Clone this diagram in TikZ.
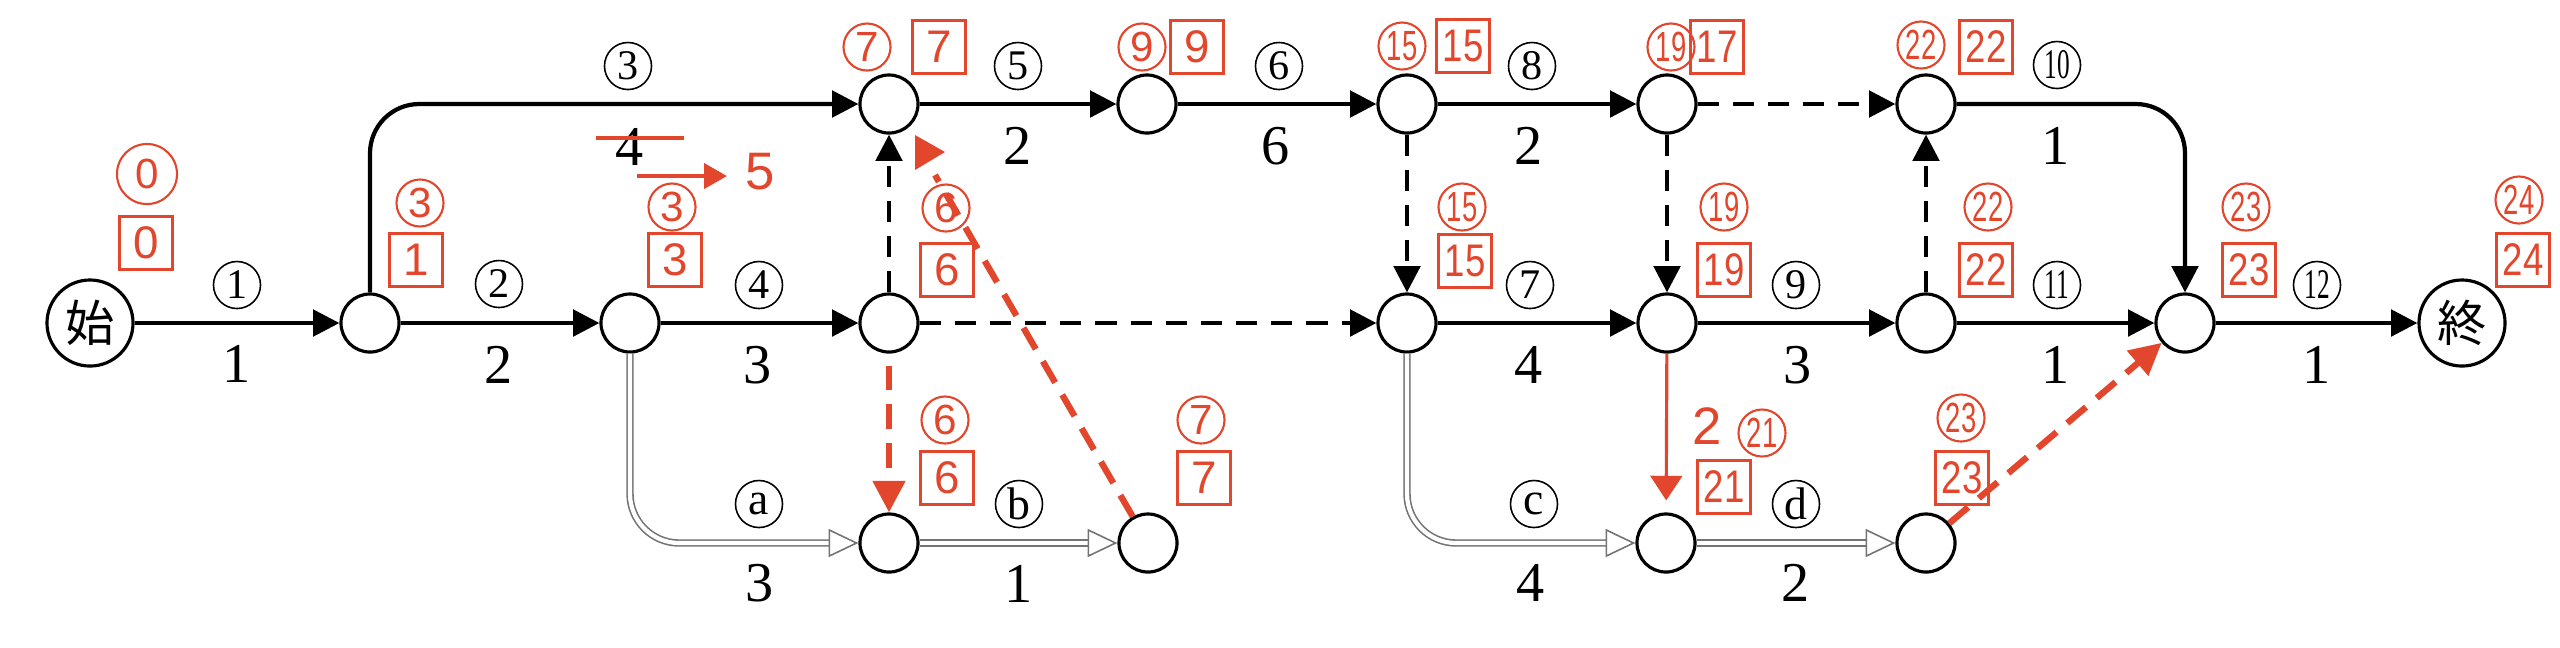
\documentclass[tikz,border=0pt]{standalone}
\usepackage{fontspec}
\setmainfont{Liberation Serif}
\newfontfamily\redsans{Liberation Sans}
\newfontfamily\cjk{Noto Sans CJK JP}
\usepackage{graphicx}
\usetikzlibrary{arrows.meta}
\definecolor{critred}{RGB}{226,70,44}
\newcommand{\tnum}[2][0.6]{\scalebox{#1}[1]{#2}}

\begin{document}
\begin{tikzpicture}[
		x=0.01cm, y=-0.01cm,
		ev/.style={circle,draw,line width=0.9pt,minimum size=0.58cm,inner sep=0pt},
		term/.style={ev,minimum size=0.86cm,font=\cjk\fontsize{14}{14}\selectfont},
		act/.style={line width=1.2pt,-{Triangle[length=7.5pt,width=7.5pt]}},
		dum/.style={act,dash pattern=on 6pt off 4pt},
		alt/.style={draw=black!55,double=white,double distance=1.2pt,line width=0.45pt,-{Triangle[open,length=8.5pt,width=8pt]}},
		crit/.style={critred,line width=1.8pt,dash pattern=on 7pt off 4pt,-{Triangle[length=9pt,width=9pt]}},
		cn/.style={circle,draw,line width=0.45pt,minimum size=0.47cm,inner sep=0pt,font=\fontsize{12}{12}\selectfont},
		dur/.style={inner sep=0pt,font=\fontsize{16}{16}\selectfont},
		rc/.style={circle,draw=critred,text=critred,line width=0.6pt,minimum size=0.47cm,inner sep=0pt,font=\redsans\fontsize{12}{12}\selectfont},
		rb/.style={rectangle,draw=critred,text=critred,line width=0.7pt,minimum size=0.53cm,inner sep=0pt,font=\redsans\fontsize{13}{13}\selectfont},
		rt/.style={text=critred,inner sep=0pt,font=\redsans\fontsize{15}{15}\selectfont}
		]
		\useasboundingbox (0,0) rectangle (2560,647);
		\node[term] (S) at (90,323) {始};
		\node[ev] (A) at (370,323) {};
		\node[ev] (B) at (630,323) {};
		\node[ev] (C) at (889,323) {};
		\node[ev] (D) at (889,104) {};
		\node[ev] (E) at (1147,104) {};
		\node[ev] (F) at (1407,104) {};
		\node[ev] (G) at (1667,104) {};
		\node[ev] (H) at (1926,104) {};
		\node[ev] (I) at (1407,323) {};
		\node[ev] (J) at (1667,323) {};
		\node[ev] (K) at (1926,323) {};
		\node[ev] (L) at (2185,323) {};
		\node[term] (T) at (2462,323) {終};
		\node[ev] (Pa) at (889,543) {};
		\node[ev] (Pb) at (1148,543) {};
		\node[ev] (Pc) at (1666,543) {};
		\node[ev] (Pd) at (1926,543) {};

		\draw[act] (S) -- (A);
		\draw[act] (A) -- (B);
		\draw[act] (B) -- (C);
		\draw[act,rounded corners=14pt] (A.north) |- (D);
		\draw[act] (D) -- (E);
		\draw[act] (E) -- (F);
		\draw[act] (F) -- (G);
		\draw[act,rounded corners=14pt] (H.east) -| (L.north);
		\draw[act] (I) -- (J);
		\draw[act] (J) -- (K);
		\draw[act] (K) -- (L);
		\draw[act] (L) -- (T);
		\draw[dum] (C) -- (D);
		\draw[dum] (C) -- (I);
		\draw[dum] (F) -- (I);
		\draw[dum] (G) -- (J);
		\draw[dum] (G) -- (H);
		\draw[dum] (K) -- (H);
		\draw[alt,rounded corners=14pt] (B.south) |- (Pa);
		\draw[alt] (Pa) -- (Pb);
		\draw[alt,rounded corners=14pt] (I.south) |- (Pc);
		\draw[alt] (Pc) -- (Pd);

		\node[cn] (n1) at (237,285) {1};
		\node[cn] (n2) at (499,284) {2};
		\node[cn] (n3) at (628,66) {3};
		\node[cn] (n4) at (759,285) {4};
		\node[cn] (n5) at (1018,66) {5};
		\node[cn] (n6) at (1279,66) {6};
		\node[cn] (n7) at (1530,285) {7};
		\node[cn] (n8) at (1532,66) {8};
		\node[cn] (n9) at (1796,285) {9};
		\node[cn] (n10) at (2057,65) {\tnum{10}};
		\node[cn] (n11) at (2057,285) {\tnum{11}};
		\node[cn] (n12) at (2317,285) {\tnum{12}};
		\node[cn,font=\fontsize{13}{13}\selectfont] (na) at (759,504) {a};
		\node[cn,font=\fontsize{13}{13}\selectfont] (nb) at (1019,504) {b};
		\node[cn,font=\fontsize{13}{13}\selectfont] (nc) at (1534,504) {c};
		\node[cn,font=\fontsize{13}{13}\selectfont] (nd) at (1796,504) {d};
		\node[dur] (t1) at (237,364) {1};
		\node[dur] (t2) at (499,365) {2};
		\node[dur] (t3) at (630,147) {4};
		\node[dur] (t4) at (758,365) {3};
		\node[dur] (t5) at (1018,146) {2};
		\node[dur] (t6) at (1276,146) {6};
		\node[dur] (t7) at (1529,365) {4};
		\node[dur] (t8) at (1529,146) {2};
		\node[dur] (t9) at (1798,365) {3};
		\node[dur] (t10) at (2056,146) {1};
		\node[dur] (t11) at (2056,365) {1};
		\node[dur] (t12) at (2317,365) {1};
		\node[dur] (ta) at (760,583) {3};
		\node[dur] (tb) at (1019,584) {1};
		\node[dur] (tc) at (1531,583) {4};
		\node[dur] (td) at (1796,583) {2};

		\node[rc,minimum size=0.6cm] (eS) at (147,174) {0};
		\node[rb] (lS) at (146,243) {0};
		\node[rc] (eA) at (420,203) {3};
		\node[rb] (lA) at (416,260) {1};
		\node[rc] (eB) at (672,207) {3};
		\node[rb] (lB) at (675,260) {3};
		\node[rc] (eC) at (946,208) {6};
		\node[rb] (lC) at (947,270) {6};
		\node[rc] (eD) at (867,47) {7};
		\node[rb] (lD) at (939,47) {7};
		\node[rc] (eE) at (1142,47) {9};
		\node[rb] (lE) at (1197,47) {9};
		\node[rc] (eF) at (1402,46) {\tnum[0.65]{15}};
		\node[rb] (lF) at (1463,46) {\tnum[0.8]{15}};
		\node[rc] (eG) at (1671,47) {\tnum[0.65]{19}};
		\node[rb] (lG) at (1717,47) {\tnum[0.8]{17}};
		\node[rc] (eH) at (1921,45) {\tnum[0.65]{22}};
		\node[rb] (lH) at (1986,47) {\tnum[0.8]{22}};
		\node[rc] (eI) at (1462,207) {\tnum[0.65]{15}};
		\node[rb] (lI) at (1465,261) {\tnum[0.8]{15}};
		\node[rc] (eJ) at (1724,207) {\tnum[0.65]{19}};
		\node[rb] (lJ) at (1724,270) {\tnum[0.8]{19}};
		\node[rc] (eK) at (1988,207) {\tnum[0.65]{22}};
		\node[rb] (lK) at (1986,270) {\tnum[0.8]{22}};
		\node[rc] (eL) at (2246,207) {\tnum[0.65]{23}};
		\node[rb] (lL) at (2249,270) {\tnum[0.8]{23}};
		\node[rc] (eT) at (2519,200) {\tnum[0.65]{24}};
		\node[rb] (lT) at (2523,260) {\tnum[0.8]{24}};
		\node[rc] (ePa) at (945,420) {6};
		\node[rb] (lPa) at (947,478) {6};
		\node[rc] (ePb) at (1201,420) {7};
		\node[rb] (lPb) at (1204,478) {7};
		\node[rt] (two) at (1707,426) {2};
		\node[rc] (ePc) at (1762,433) {\tnum[0.65]{21}};
		\node[rb] (lPc) at (1724,487) {\tnum[0.8]{21}};
		\node[rc] (ePd) at (1961,418) {\tnum[0.65]{23}};
		\node[rb] (lPd) at (1962,478) {\tnum[0.8]{23}};
		\node[rt] (five) at (760,172) {5};

		\coordinate (s0) at (596,138);
		\coordinate (s1) at (684,138);
		\draw[critred,line width=1.1pt] (s0) -- (s1);
		\coordinate (r0) at (637,176);
		\draw[critred,line width=1.3pt,-{Triangle[length=6.5pt,width=7pt]},shorten >=5pt] (r0) -- (r0 -| five.west);
		\draw[crit,shorten <=0.12cm] (C) -- (Pa);
		\coordinate (ctip) at (935,175);
		\draw[crit,-] (Pb) -- (ctip);
		\fill[critred] (915,135) -- (915,170) -- (945,152) -- cycle;
		\draw[crit] (Pd) -- (L);
		\draw[critred,line width=0.9pt,-{Triangle[length=7pt,width=9pt]},shorten >=0.12cm] (J) -- (Pc);
	\end{tikzpicture}
\end{document}
